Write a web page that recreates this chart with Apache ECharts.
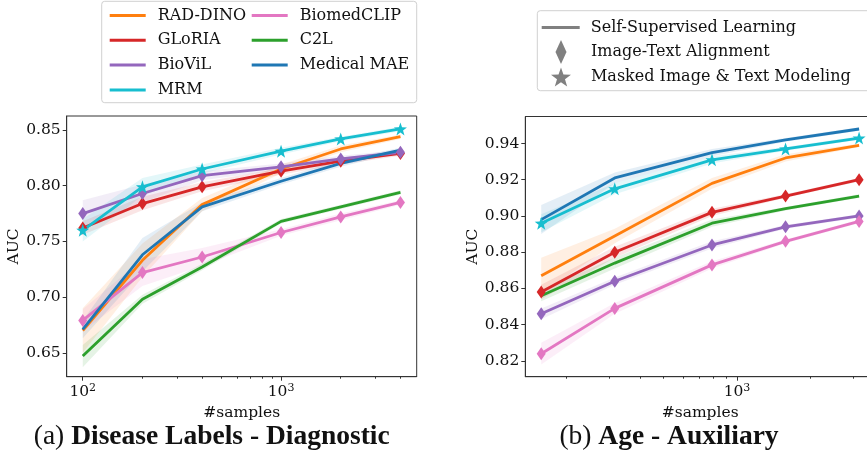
<!DOCTYPE html>
<html>
<head>
<meta charset="utf-8">
<script src="https://cdn.jsdelivr.net/npm/echarts@6/dist/echarts.min.js"></script>
<style>html,body{margin:0;padding:0;background:#fff}#c{width:867px;height:467px}</style>
</head>
<body>
<div id="c"></div>
<script>
// ---------- DATA ----------
const MODELS = ['RAD-DINO', 'GLoRIA', 'BioViL', 'MRM', 'BiomedCLIP', 'C2L', 'Medical MAE'];
const X_LEFT = [100, 200, 400, 1000, 2000, 4000];
const X_RIGHT = [158, 316, 790, 1580, 3160];

const LEFT_RAD_DINO = [0.670, 0.733, 0.783, 0.815, 0.833, 0.844];
const LEFT_GLORIA = [0.762, 0.784, 0.799, 0.813, 0.822, 0.829];
const LEFT_BIOVIL = [0.775, 0.793, 0.809, 0.817, 0.824, 0.830];
const LEFT_MRM = [0.760, 0.799, 0.815, 0.831, 0.842, 0.851];
const LEFT_BIOMEDCLIP = [0.679, 0.722, 0.736, 0.758, 0.772, 0.785];
const LEFT_C2L = [0.647, 0.698, 0.727, 0.768, 0.781, 0.794];
const LEFT_MEDICAL_MAE = [0.671, 0.738, 0.781, 0.804, 0.820, 0.832];

const RIGHT_RAD_DINO = [0.867, 0.889, 0.918, 0.932, 0.939];
const RIGHT_GLORIA = [0.858, 0.880, 0.902, 0.911, 0.920];
const RIGHT_BIOVIL = [0.846, 0.864, 0.884, 0.894, 0.900];
const RIGHT_MRM = [0.896, 0.915, 0.931, 0.937, 0.943];
const RIGHT_BIOMEDCLIP = [0.824, 0.849, 0.873, 0.886, 0.897];
const RIGHT_C2L = [0.856, 0.874, 0.896, 0.904, 0.911];
const RIGHT_MEDICAL_MAE = [0.898, 0.921, 0.935, 0.942, 0.948];

// half-width of shaded confidence bands
const LEFT_BAND_RAD_DINO = [0.020, 0.015, 0.006, 0.004, 0.003, 0.002];
const LEFT_BAND_GLORIA = [0.006, 0.006, 0.004, 0.003, 0.003, 0.002];
const LEFT_BAND_BIOVIL = [0.012, 0.008, 0.004, 0.003, 0.003, 0.002];
const LEFT_BAND_MRM = [0.010, 0.008, 0.004, 0.003, 0.002, 0.002];
const LEFT_BAND_BIOMEDCLIP = [0.010, 0.012, 0.008, 0.003, 0.003, 0.002];
const LEFT_BAND_C2L = [0.010, 0.004, 0.003, 0.002, 0.002, 0.002];
const LEFT_BAND_MEDICAL_MAE = [0.008, 0.015, 0.004, 0.003, 0.003, 0.002];

const RIGHT_BAND_RAD_DINO = [0.010, 0.004, 0.003, 0.002, 0.001];
const RIGHT_BAND_GLORIA = [0.004, 0.003, 0.002, 0.001, 0.001];
const RIGHT_BAND_BIOVIL = [0.003, 0.002, 0.002, 0.001, 0.001];
const RIGHT_BAND_MRM = [0.005, 0.003, 0.002, 0.001, 0.001];
const RIGHT_BAND_BIOMEDCLIP = [0.006, 0.003, 0.002, 0.001, 0.001];
const RIGHT_BAND_C2L = [0.003, 0.003, 0.002, 0.001, 0.001];
const RIGHT_BAND_MEDICAL_MAE = [0.008, 0.003, 0.002, 0.001, 0.001];

const LEFT_Y_TICKS = [0.65, 0.70, 0.75, 0.80, 0.85];
const RIGHT_Y_TICKS = [0.82, 0.84, 0.86, 0.88, 0.90, 0.92, 0.94];
const LEFT_X_MAJOR = [100, 1000];
const LEFT_X_MINOR = [200, 300, 400, 500, 600, 700, 800, 900, 2000, 3000, 4000];
const RIGHT_X_MAJOR = [1000];
const RIGHT_X_MINOR = [200, 300, 400, 500, 600, 700, 800, 900, 2000, 3000];

const STYLE_LEGEND = ['Self-Supervised Learning', 'Image-Text Alignment', 'Masked Image & Text Modeling'];
const CAPTIONS = [['(a) ', 'Disease Labels - Diagnostic'], ['(b) ', 'Age - Auxiliary']];

// ---------- STYLE ----------
const COLORS = {
  'RAD-DINO': '#ff7f0e', 'GLoRIA': '#d62728', 'BioViL': '#9467bd', 'MRM': '#17becf',
  'BiomedCLIP': '#e377c2', 'C2L': '#2ca02c', 'Medical MAE': '#1f77b4'
};
const STAR = 'path://M0,-10L2.35,-3.24L9.51,-3.09L3.8,1.24L5.88,8.09L0,4L-5.88,8.09L-3.8,1.24L-9.51,-3.09L-2.35,-3.24Z';
const MARKERS = {
  'RAD-DINO': 'none', 'GLoRIA': 'diamond', 'BioViL': 'diamond', 'MRM': STAR,
  'BiomedCLIP': 'diamond', 'C2L': 'none', 'Medical MAE': 'none'
};
const FONT = 'DejaVu Serif';
const CAP_FONT = 'Liberation Serif';

const LEFT = {
  'RAD-DINO': [LEFT_RAD_DINO, LEFT_BAND_RAD_DINO], 'GLoRIA': [LEFT_GLORIA, LEFT_BAND_GLORIA],
  'BioViL': [LEFT_BIOVIL, LEFT_BAND_BIOVIL], 'MRM': [LEFT_MRM, LEFT_BAND_MRM],
  'BiomedCLIP': [LEFT_BIOMEDCLIP, LEFT_BAND_BIOMEDCLIP], 'C2L': [LEFT_C2L, LEFT_BAND_C2L],
  'Medical MAE': [LEFT_MEDICAL_MAE, LEFT_BAND_MEDICAL_MAE]
};
const RIGHT = {
  'RAD-DINO': [RIGHT_RAD_DINO, RIGHT_BAND_RAD_DINO], 'GLoRIA': [RIGHT_GLORIA, RIGHT_BAND_GLORIA],
  'BioViL': [RIGHT_BIOVIL, RIGHT_BAND_BIOVIL], 'MRM': [RIGHT_MRM, RIGHT_BAND_MRM],
  'BiomedCLIP': [RIGHT_BIOMEDCLIP, RIGHT_BAND_BIOMEDCLIP], 'C2L': [RIGHT_C2L, RIGHT_BAND_C2L],
  'Medical MAE': [RIGHT_MEDICAL_MAE, RIGHT_BAND_MEDICAL_MAE]
};

function hexA(hex, a) {
  const n = parseInt(hex.slice(1), 16);
  return 'rgba(' + (n >> 16) + ',' + ((n >> 8) & 255) + ',' + (n & 255) + ',' + a + ')';
}

const series = [];
function addPanel(panel, xs, table) {
  const xi = panel * 2, yi = panel;
  MODELS.forEach(function (m) {
    const ys = table[m][0], hw = table[m][1];
    const rows = xs.map(function (x, i) { return [x, ys[i] - hw[i], ys[i] + hw[i]]; });
    const fill = hexA(COLORS[m], 0.12);
    series.push({
      type: 'custom', name: 'band' + panel + m, xAxisIndex: xi, yAxisIndex: yi, silent: true, z: 1,
      data: rows, encode: { x: 0, y: [1, 2] },
      renderItem: function (params, api) {
        if (params.dataIndex !== 0) return null;
        const up = [], dn = [];
        rows.forEach(function (r) {
          up.push(api.coord([r[0], r[2]]));
          dn.push(api.coord([r[0], r[1]]));
        });
        return { type: 'polygon', shape: { points: up.concat(dn.reverse()) }, style: { fill: fill } };
      }
    });
  });
  MODELS.forEach(function (m, k) {
    const ys = table[m][0];
    const mk = MARKERS[m];
    series.push({
      type: 'line', name: m, xAxisIndex: xi, yAxisIndex: yi, z: 3,
      color: COLORS[m],
      symbol: mk, symbolSize: mk === 'diamond' ? [9, 13] : 13, showSymbol: mk !== 'none',
      itemStyle: { color: COLORS[m] },
      lineStyle: { width: 2.8, color: COLORS[m] },
      data: xs.map(function (x, i) { return [x, ys[i]]; })
    });
  });
}
addPanel(0, X_LEFT, LEFT);
addPanel(1, X_RIGHT, RIGHT);
// dummy series for the marker-style legend
STYLE_LEGEND.forEach(function (nm) {
  series.push({ type: 'line', name: nm, xAxisIndex: 2, yAxisIndex: 1, data: [], color: '#808080', itemStyle: { color: '#808080' } });
});

const supFmt = function (v) { return '10{s|' + Math.round(Math.log10(v)) + '}'; };
const xLabel = {
  fontFamily: FONT, fontSize: 15.5, color: '#111', margin: 6, formatter: supFmt,
  rich: { s: { fontFamily: FONT, fontSize: 11, color: '#111', padding: [0, 0, 7, 0] } }
};

function xAxes(gridIndex, min, max, major, minor) {
  return [
    {
      type: 'log', logBase: 10, gridIndex: gridIndex, min: min, max: max, position: 'bottom',
      axisLine: { show: true, lineStyle: { color: '#333', width: 1 } },
      axisTick: { show: true, length: 4, customValues: major, lineStyle: { color: '#333' } },
      axisLabel: Object.assign({ customValues: major }, xLabel),
      splitLine: { show: false }, minorTick: { show: false },
      name: '#samples', nameLocation: 'middle', nameGap: 23,
      nameTextStyle: { fontFamily: FONT, fontSize: 15.5, color: '#111', verticalAlign: 'top' }
    },
    {
      type: 'log', logBase: 10, gridIndex: gridIndex, min: min, max: max, position: 'bottom',
      axisLine: { show: false },
      axisTick: { show: true, length: 2, customValues: minor, lineStyle: { color: '#333' } },
      axisLabel: { show: false }, splitLine: { show: false }
    }
  ];
}
function yAxis(gridIndex, min, max, ticks) {
  return {
    type: 'value', gridIndex: gridIndex, min: min, max: max,
    axisLine: { show: true, lineStyle: { color: '#333', width: 1 } },
    axisTick: { show: true, length: 4, customValues: ticks, lineStyle: { color: '#333' } },
    axisLabel: { customValues: ticks, fontFamily: FONT, fontSize: 15.5, color: '#111', margin: 6,
      formatter: function (v) { return v.toFixed(2); } },
    splitLine: { show: false },
    name: 'AUC', nameLocation: 'middle', nameGap: 44, nameRotate: 90,
    nameTextStyle: { fontFamily: FONT, fontSize: 15.5, color: '#111' }
  };
}

const legendText = { fontFamily: FONT, fontSize: 16, color: '#111', lineHeight: 18 };
const lineIcon = 'path://M0,0H36V3H0Z';

const option = {
  animation: false,
  backgroundColor: '#fff',
  grid: [
    { left: 66.7, top: 116, right: 450.3, bottom: 90.3, show: true, borderColor: '#333', borderWidth: 1,
      containLabel: false, outerBoundsMode: 'none' },
    { left: 525.3, top: 116.5, right: -8, bottom: 90.3, show: true, borderColor: '#333', borderWidth: 1,
      containLabel: false, outerBoundsMode: 'none' }
  ],
  xAxis: xAxes(0, 83.0, 4831, LEFT_X_MAJOR, LEFT_X_MINOR).concat(xAxes(1, 136, 3671, RIGHT_X_MAJOR, RIGHT_X_MINOR)),
  yAxis: [yAxis(0, 0.6285, 0.8626, LEFT_Y_TICKS), yAxis(1, 0.8113, 0.9549, RIGHT_Y_TICKS)],
  legend: [
    { data: MODELS.slice(0, 4), orient: 'vertical', left: 109.7, top: 6.5, padding: 0, itemGap: 6.8,
      itemWidth: 50, itemHeight: 3, icon: lineIcon, textStyle: legendText, selectedMode: false },
    { data: MODELS.slice(4), orient: 'vertical', left: 251.7, top: 6.5, padding: 0, itemGap: 6.8,
      itemWidth: 50, itemHeight: 3, icon: lineIcon, textStyle: legendText, selectedMode: false },
    { data: [STYLE_LEGEND[0]], left: 541.7, top: 18.5, padding: 0, itemWidth: 50, itemHeight: 3,
      icon: 'path://M0,0H38V3H0Z', textStyle: legendText, selectedMode: false },
    { data: [STYLE_LEGEND[1]], left: 555.5, top: 40, padding: 0, itemWidth: 50, itemHeight: 24,
      icon: 'path://M0,0L5.5,12L0,24L-5.5,12Z', textStyle: legendText, selectedMode: false },
    { data: [STYLE_LEGEND[2]], left: 551, top: 67.5, padding: 0, itemWidth: 50, itemHeight: 19,
      icon: STAR, textStyle: legendText, selectedMode: false }
  ],
  graphic: [
    { type: 'rect', shape: { x: 101.7, y: 1.3, width: 315, height: 101.4, r: 3 },
      style: { fill: '#fff', stroke: '#d0d0d0', lineWidth: 1 }, z: -10 },
    { type: 'rect', shape: { x: 537.3, y: 10.7, width: 340, height: 80, r: 3 },
      style: { fill: '#fff', stroke: '#d0d0d0', lineWidth: 1 }, z: -10 },
    { type: 'text', x: 211.7, y: 437, style: {
        text: CAPTIONS[0][0] + '{b|' + CAPTIONS[0][1] + '}', align: 'center', verticalAlign: 'middle',
        textAlign: 'center', textVerticalAlign: 'middle',
        fontFamily: CAP_FONT, fontSize: 27.5, fill: '#111',
        rich: { b: { fontFamily: CAP_FONT, fontSize: 27.5, fontWeight: 'bold', fill: '#111' } } } },
    { type: 'text', x: 669, y: 437, style: {
        text: CAPTIONS[1][0] + '{b|' + CAPTIONS[1][1] + '}', align: 'center', verticalAlign: 'middle',
        textAlign: 'center', textVerticalAlign: 'middle',
        fontFamily: CAP_FONT, fontSize: 27.5, fill: '#111',
        rich: { b: { fontFamily: CAP_FONT, fontSize: 27.5, fontWeight: 'bold', fill: '#111' } } } }
  ],
  series: series
};

const chart = echarts.init(document.getElementById('c'), null, { renderer: 'canvas' });
chart.setOption(option);
</script>
</body>
</html>
